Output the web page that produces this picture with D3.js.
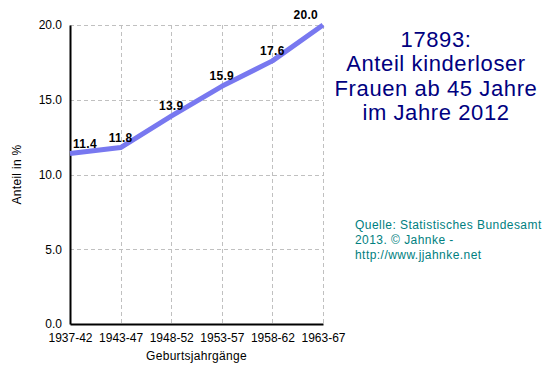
<!DOCTYPE html>
<html>
<head>
<meta charset="utf-8">
<script src="https://cdn.jsdelivr.net/npm/d3@7"></script>
<style>
  body { margin: 0; background: #fff; }
  svg { display: block; font-family: Arial, "Liberation Sans", sans-serif; }
</style>
</head>
<body>
<div id="chart"></div>
<script>
// Data
var categories = ["1937-42", "1943-47", "1948-52", "1953-57", "1958-62", "1963-67"];
var values = [11.4, 11.8, 13.9, 15.9, 17.6, 20.0];
var yTicks = [0, 5, 10, 15, 20];
var titleLines = ["17893:", "Anteil kinderloser", "Frauen ab 45 Jahre", "im Jahre 2012"];
var sourceLines = ["Quelle: Statistisches Bundesamt", "2013. \u00a9 Jahnke -", "http://www.jjahnke.net"];

var W = 553, H = 376;
var margin = { top: 25, right: 230, bottom: 52, left: 70 };
var width = W - margin.left - margin.right;
var height = H - margin.top - margin.bottom;

var svg = d3.select("#chart").append("svg")
  .attr("width", W)
  .attr("height", H);

var x = d3.scalePoint().domain(categories).range([0, width]).padding(0);
var y = d3.scaleLinear().domain([0, 20]).range([height, 0]);

var g = svg.append("g")
  .attr("transform", "translate(" + margin.left + "," + margin.top + ")");

// Grid lines
g.selectAll(".hgrid")
  .data(yTicks.slice(1))
  .enter().append("line")
  .attr("x1", 0).attr("x2", width)
  .attr("y1", function (d) { return Math.round(y(d)) + 0.5; })
  .attr("y2", function (d) { return Math.round(y(d)) + 0.5; })
  .attr("stroke", "#c0c0c0")
  .attr("stroke-dasharray", "4,3");

g.selectAll(".vgrid")
  .data(categories.slice(1))
  .enter().append("line")
  .attr("x1", function (d) { return Math.round(x(d)) + 0.5; })
  .attr("x2", function (d) { return Math.round(x(d)) + 0.5; })
  .attr("y1", 0).attr("y2", height)
  .attr("stroke", "#c0c0c0")
  .attr("stroke-dasharray", "4,3");

// Axes
var yAxis = g.append("g")
  .call(d3.axisLeft(y).tickValues(yTicks).tickFormat(d3.format(".1f")).tickSize(0).tickPadding(8));
yAxis.select(".domain").attr("stroke", "#000").attr("stroke-width", 2);
yAxis.selectAll("text").attr("font-size", "12px").attr("fill", "#000")
  .attr("font-family", "Arial, 'Liberation Sans', sans-serif");

var xAxis = g.append("g")
  .attr("transform", "translate(0," + height + ")")
  .call(d3.axisBottom(x).tickSize(0).tickPadding(9));
xAxis.select(".domain").attr("stroke", "#000").attr("stroke-width", 2);
xAxis.selectAll("text").attr("font-size", "12px").attr("fill", "#000")
  .attr("font-family", "Arial, 'Liberation Sans', sans-serif");

// Axis titles
svg.append("text")
  .attr("x", margin.left + width / 2)
  .attr("y", 360)
  .attr("text-anchor", "middle")
  .attr("font-size", "12px")
  .attr("letter-spacing", "0.3px")
  .text("Geburtsjahrgänge");

svg.append("text")
  .attr("transform", "translate(21," + (margin.top + height / 2) + ") rotate(-90)")
  .attr("text-anchor", "middle")
  .attr("font-size", "12px")
  .attr("letter-spacing", "0.3px")
  .text("Anteil in %");

// Line
var line = d3.line()
  .x(function (d, i) { return x(categories[i]); })
  .y(function (d) { return y(d); });

g.append("path")
  .datum(values)
  .attr("fill", "none")
  .attr("stroke", "#7878f0")
  .attr("stroke-width", 5)
  .attr("stroke-linejoin", "round")
  .attr("d", line);

// Value labels
var last = values.length - 1;
g.selectAll(".val")
  .data(values)
  .enter().append("text")
  .attr("x", function (d, i) {
    var px = x(categories[i]);
    if (i === 0) return px + 3;
    if (i === last) return px - 5;
    return px;
  })
  .attr("y", function (d) { return y(d) - 6; })
  .attr("text-anchor", function (d, i) { return i === 0 ? "start" : (i === last ? "end" : "middle"); })
  .attr("font-size", "12px")
  .attr("font-weight", "bold")
  .attr("letter-spacing", "0.3px")
  .text(function (d) { return d.toFixed(1); });

// Title
svg.append("text")
  .attr("text-anchor", "middle")
  .attr("font-size", "22px")
  .attr("letter-spacing", "0.6px")
  .attr("fill", "#000080")
  .selectAll("tspan")
  .data(titleLines)
  .enter().append("tspan")
  .attr("x", 436)
  .attr("y", function (d, i) { return 47 + i * 24.3; })
  .text(function (d) { return d; });

// Source note
svg.append("text")
  .attr("font-size", "12px")
  .attr("letter-spacing", "0.45px")
  .attr("fill", "#008080")
  .selectAll("tspan")
  .data(sourceLines)
  .enter().append("tspan")
  .attr("x", 355)
  .attr("y", function (d, i) { return 229 + i * 15; })
  .text(function (d) { return d; });
</script>
</body>
</html>
